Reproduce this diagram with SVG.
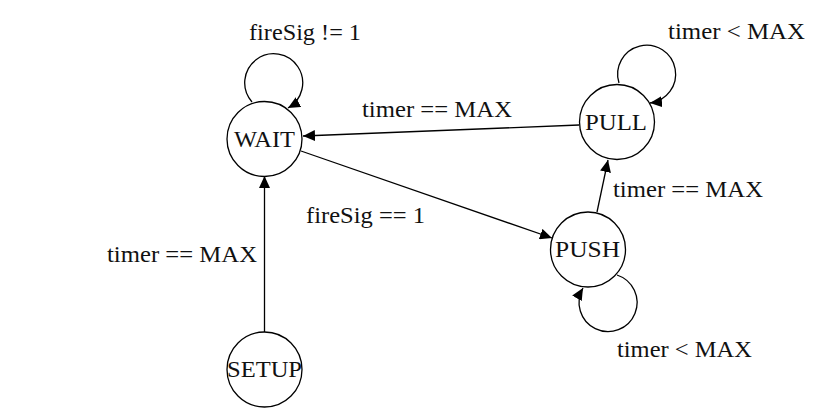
<svg xmlns="http://www.w3.org/2000/svg" width="828" height="415" viewBox="0 0 828 415">
<defs>
<marker id="arr" markerUnits="userSpaceOnUse" markerWidth="12" markerHeight="11" refX="12" refY="5.5" orient="auto">
<path d="M0,0 L12,5.5 L0,11 z" fill="#000"/>
</marker>
<style>
.node circle{fill:#fff;stroke:#000;stroke-width:1.3}
.edges path,.edges line{fill:none;stroke:#000;stroke-width:1.3;marker-end:url(#arr)}
</style>
</defs>
<rect width="828" height="415" fill="#fff"/>
<g class="edges" id="edges">
<path d="M252,102 A29,29 0 1 1 288,108"/>
<path d="M619,83 A29,29 0 1 1 650,103"/>
<path d="M617,275 A29,29 0 1 1 583,288"/>
<line x1="579" y1="125" x2="303" y2="136"/>
<line x1="301" y1="151" x2="552" y2="238"/>
<line x1="597" y1="212" x2="608" y2="160"/>
<line x1="264.5" y1="332" x2="264.5" y2="176"/>
</g>
<g id="edge-labels" font-family="Liberation Serif, serif" font-size="23" fill="#111">
<text x="249" y="40" textLength="112" lengthAdjust="spacingAndGlyphs">fireSig != 1</text>
<text x="362" y="117" textLength="150" lengthAdjust="spacingAndGlyphs">timer == MAX</text>
<text x="668" y="39" textLength="137" lengthAdjust="spacingAndGlyphs">timer &lt; MAX</text>
<text x="613" y="197" textLength="150" lengthAdjust="spacingAndGlyphs">timer == MAX</text>
<text x="306" y="223" textLength="119" lengthAdjust="spacingAndGlyphs">fireSig == 1</text>
<text x="107" y="262" textLength="150" lengthAdjust="spacingAndGlyphs">timer == MAX</text>
<text x="617" y="357" textLength="135" lengthAdjust="spacingAndGlyphs">timer &lt; MAX</text>
</g>
<g font-family="Liberation Serif, serif" font-size="23" fill="#111" text-anchor="middle">
<g id="WAIT" class="node">
<circle cx="264.5" cy="139" r="37.5"/>
<text x="264.5" y="147" textLength="61" lengthAdjust="spacingAndGlyphs">WAIT</text>
</g>
<g id="PULL" class="node">
<circle cx="617" cy="122" r="37.5"/>
<text x="616" y="130" textLength="62" lengthAdjust="spacingAndGlyphs">PULL</text>
</g>
<g id="PUSH" class="node">
<circle cx="588" cy="249.5" r="37.5"/>
<text x="587.5" y="257" textLength="65" lengthAdjust="spacingAndGlyphs">PUSH</text>
</g>
<g id="SETUP" class="node">
<circle cx="264.5" cy="369.5" r="37.5"/>
<text x="264.5" y="377" textLength="75" lengthAdjust="spacingAndGlyphs">SETUP</text>
</g>
</g>
</svg>
